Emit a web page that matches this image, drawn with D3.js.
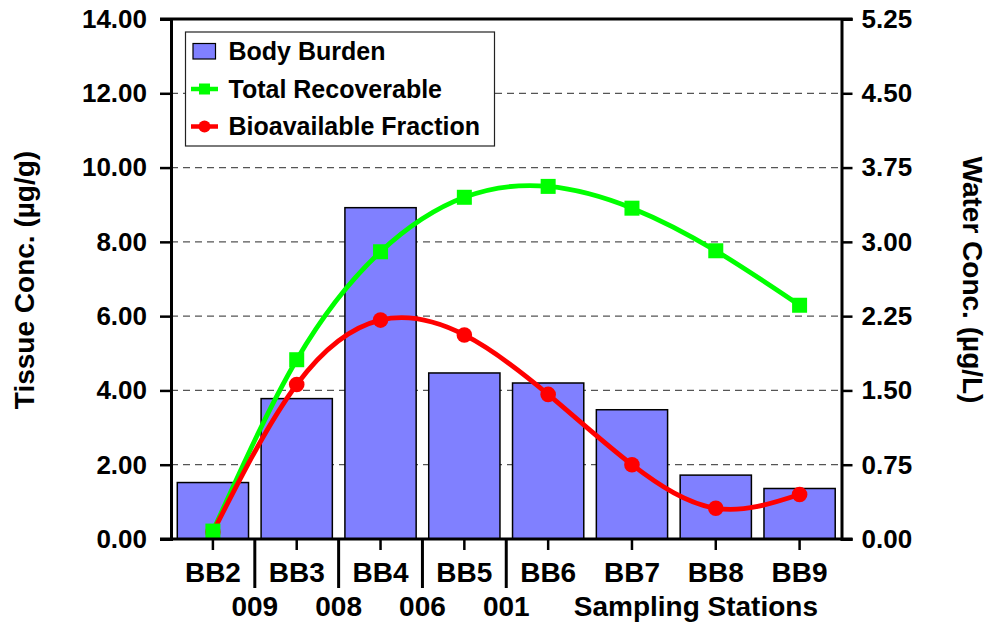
<!DOCTYPE html>
<html>
<head>
<meta charset="utf-8">
<script src="https://cdn.jsdelivr.net/npm/d3@7"></script>
<style>
  body { margin: 0; background: #fff; }
  svg { display: block; font-family: "Liberation Sans", Arial, sans-serif; font-weight: bold; }
</style>
</head>
<body>
<script>
// chart values
const stations = ["BB2", "BB3", "BB4", "BB5", "BB6", "BB7", "BB8", "BB9"];
const bodyBurden = [1.52, 3.78, 8.92, 4.47, 4.20, 3.48, 1.72, 1.36];       // tissue, µg/g
const totalRecoverable = [0.08, 1.81, 2.90, 3.45, 3.56, 3.34, 2.91, 2.36]; // water, µg/L
const bioavailable = [0.07, 1.56, 2.21, 2.06, 1.46, 0.75, 0.31, 0.45];     // water, µg/L
const groupBreaks = ["BB3", "BB4", "BB5", "BB6"];   // divider sits before these
const groupLabels = ["009", "008", "006", "001"];
const leftTicks = [0, 2, 4, 6, 8, 10, 12, 14];
const rightTicks = [0, 0.75, 1.5, 2.25, 3, 3.75, 4.5, 5.25];

const W = 990, H = 629;
const plotL = 171, plotR = 841.5, plotT = 19, plotB = 539;

const svg = d3.select("body").append("svg")
  .attr("width", W)
  .attr("height", H);

const x = d3.scaleBand(stations, [plotL, plotR])
  .paddingInner(0.15)
  .paddingOuter(0.075);
const yL = d3.scaleLinear([0, 14], [plotB, plotT]);
const yR = d3.scaleLinear([0, 5.25], [plotB, plotT]);
const cx = d => x(d) + x.bandwidth() / 2;

// dashed grid
svg.append("g")
  .selectAll("line")
  .data(leftTicks.filter(d => d > 0 && d < 14))
  .join("line")
  .attr("x1", plotL).attr("x2", plotR)
  .attr("y1", d => yL(d)).attr("y2", d => yL(d))
  .attr("stroke", "#555")
  .attr("stroke-width", 1.2)
  .attr("stroke-dasharray", "7,5");

// bars
svg.append("g")
  .selectAll("rect")
  .data(stations)
  .join("rect")
  .attr("x", d => x(d))
  .attr("width", x.bandwidth())
  .attr("y", (d, i) => yL(bodyBurden[i]))
  .attr("height", (d, i) => plotB - yL(bodyBurden[i]))
  .attr("fill", "#8080ff")
  .attr("stroke", "#000")
  .attr("stroke-width", 1.5);

const line = d3.line()
  .x((d, i) => cx(stations[i]))
  .y(d => yR(d))
  .curve(d3.curveNatural);

svg.append("path")
  .attr("d", line(totalRecoverable))
  .attr("fill", "none")
  .attr("stroke", "#00ff00")
  .attr("stroke-width", 4.8);

svg.append("path")
  .attr("d", line(bioavailable))
  .attr("fill", "none")
  .attr("stroke", "#ff0000")
  .attr("stroke-width", 4.8);

svg.append("g")
  .selectAll("circle")
  .data(bioavailable)
  .join("circle")
  .attr("cx", (d, i) => cx(stations[i]))
  .attr("cy", d => yR(d))
  .attr("r", 7.8)
  .attr("fill", "#ff0000");

svg.append("g")
  .selectAll("rect")
  .data(totalRecoverable)
  .join("rect")
  .attr("x", (d, i) => cx(stations[i]) - 7.5)
  .attr("y", d => yR(d) - 7.5)
  .attr("width", 15)
  .attr("height", 15)
  .attr("fill", "#00ff00");

// axes
const axisL = svg.append("g")
  .attr("transform", `translate(${plotL},0)`)
  .call(d3.axisLeft(yL).tickValues(leftTicks).tickFormat(d3.format(".2f")).tickSize(11).tickPadding(13));
const axisR = svg.append("g")
  .attr("transform", `translate(${plotR},0)`)
  .call(d3.axisRight(yR).tickValues(rightTicks).tickFormat(d3.format(".2f")).tickSize(11).tickPadding(9));
const axisB = svg.append("g")
  .attr("transform", `translate(0,${plotB})`)
  .call(d3.axisBottom(x).tickSize(11).tickPadding(12).tickSizeOuter(0));

for (const g of [axisL, axisR, axisB]) {
  g.select(".domain").attr("stroke-width", 3);
  g.selectAll(".tick line").attr("stroke-width", 2.5);
  g.selectAll(".tick text").attr("font-size", 26).attr("fill", "#000")
    .attr("font-family", "Liberation Sans, Arial, sans-serif").attr("font-weight", "bold");
}
axisB.selectAll(".tick text").attr("font-size", 28).attr("dy", "0.71em");
axisB.select(".domain").attr("d", `M${plotL - 11},0H${plotR + 11}`);

// top frame
svg.append("line")
  .attr("x1", plotL - 11).attr("x2", plotR + 11)
  .attr("y1", plotT).attr("y2", plotT)
  .attr("stroke", "#000")
  .attr("stroke-width", 3);

// group dividers and their labels
const divX = s => x(s) - x.step() * x.paddingInner() / 2;
svg.append("g")
  .selectAll("line")
  .data(groupBreaks)
  .join("line")
  .attr("x1", divX).attr("x2", divX)
  .attr("y1", plotB).attr("y2", 588)
  .attr("stroke", "#000")
  .attr("stroke-width", 3);

svg.append("g")
  .selectAll("text")
  .data(groupBreaks)
  .join("text")
  .attr("x", divX)
  .attr("y", 616)
  .attr("text-anchor", "middle")
  .attr("font-size", 28)
  .text((d, i) => groupLabels[i]);

svg.append("text")
  .attr("x", 818)
  .attr("y", 616)
  .attr("text-anchor", "end")
  .attr("font-size", 28)
  .text("Sampling Stations");

// axis titles
svg.append("text")
  .attr("transform", "translate(34,280) rotate(-90)")
  .attr("text-anchor", "middle")
  .attr("font-size", 28)
  .text("Tissue Conc. (µg/g)");

svg.append("text")
  .attr("transform", "translate(963,280) rotate(90)")
  .attr("text-anchor", "middle")
  .attr("font-size", 28)
  .text("Water Conc. (µg/L)");

// legend
const lg = svg.append("g");
lg.append("rect")
  .attr("x", 185.5).attr("y", 32)
  .attr("width", 309).attr("height", 114)
  .attr("fill", "#fff")
  .attr("stroke", "#222")
  .attr("stroke-width", 1.2);

const rows = [
  { name: "Body Burden", kind: "bar", color: "#8080ff" },
  { name: "Total Recoverable", kind: "square", color: "#00ff00" },
  { name: "Bioavailable Fraction", kind: "circle", color: "#ff0000" }
];
rows.forEach((r, i) => {
  const yc = 51.5 + i * 37.5;
  if (r.kind === "bar") {
    lg.append("rect")
      .attr("x", 193).attr("y", yc - 8)
      .attr("width", 22.5).attr("height", 15.5)
      .attr("fill", r.color)
      .attr("stroke", "#000")
      .attr("stroke-width", 1.2);
  } else {
    lg.append("line")
      .attr("x1", 191).attr("x2", 218)
      .attr("y1", yc).attr("y2", yc)
      .attr("stroke", r.color)
      .attr("stroke-width", 4.5);
    if (r.kind === "square") {
      lg.append("rect")
        .attr("x", 199).attr("y", yc - 5.5)
        .attr("width", 11).attr("height", 11)
        .attr("fill", r.color);
    } else {
      lg.append("circle")
        .attr("cx", 204.5).attr("cy", yc)
        .attr("r", 6)
        .attr("fill", r.color);
    }
  }
  lg.append("text")
    .attr("x", 228.5)
    .attr("y", yc + 8.8)
    .attr("font-size", 25)
    .text(r.name);
});
</script>
</body>
</html>
